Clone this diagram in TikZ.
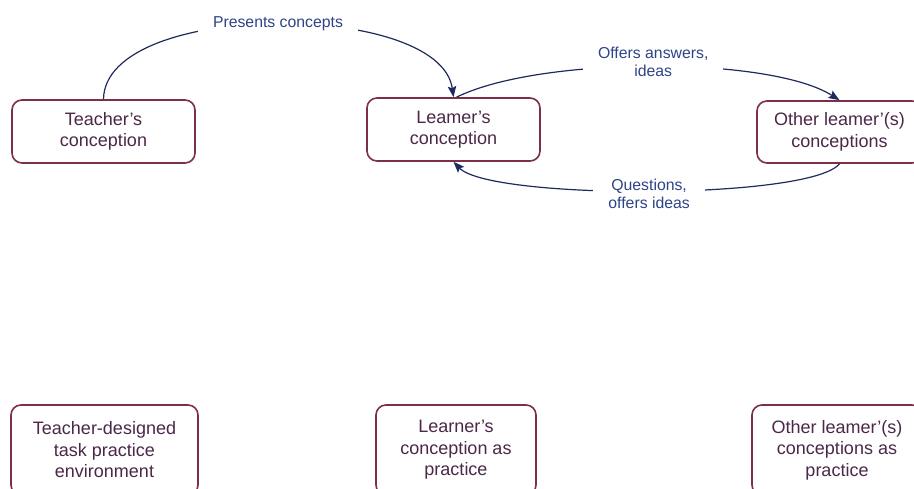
\documentclass[tikz,border=0pt]{standalone}
\usepackage{fontspec}
\setmainfont{Liberation Sans}
\usetikzlibrary{arrows.meta}
\definecolor{boxline}{HTML}{7D2F47}
\definecolor{boxtext}{HTML}{4B2748}
\definecolor{flow}{HTML}{1E2A5E}
\definecolor{flowtext}{HTML}{2D4488}
\begin{document}
\begin{tikzpicture}[x=1pt,y=-1pt,
  concept/.style={draw=boxline, line width=1.6pt, rounded corners=10pt,
    align=center, text=boxtext, font=\fontsize{18}{21.5}\selectfont, inner sep=0pt},
  flowline/.style={draw=flow, line width=1.2pt, -{Stealth[length=11pt,width=8.5pt,inset=2pt]}},
  flowlabel/.style={fill=white, text=flowtext, align=center,
    inner xsep=15pt, inner ysep=3pt, font=\fontsize{15.8}{18}\selectfont}
]
\useasboundingbox (0,0) rectangle (914,489);
\clip (0,0) rectangle (914,489);

% conceptions (upper row)
\node[concept, minimum width=183pt, minimum height=63pt] (tc) at (103.5,131.5) {Teacher’s\\conception};
\node[concept, minimum width=173pt, minimum height=63pt] (lc) at (453.5,129.5) {Leamer’s\\conception};
\node[concept, minimum width=165pt, minimum height=62pt] (oc) at (839.5,132) {Other leamer’(s)\\conceptions};

% practices (lower row)
\node[concept, minimum width=187pt, minimum height=90pt] (tp) at (104.5,450) {Teacher-designed\\task practice\\environment};
\node[concept, minimum width=160pt, minimum height=90pt] (lp) at (456,450) {Learner’s\\conception as\\practice};
\node[concept, minimum width=170pt, minimum height=90pt] (op) at (837,450) {Other leamer’(s)\\conceptions as\\practice};

% exchanges between conceptions
\draw[flowline] (tc.north) .. controls (105,0) and (440,0) ..
  node[flowlabel, pos=0.5, xshift=4pt, yshift=0.5pt] (pcl) {Presents concepts} (lc.north);
\draw[flowline] ([xshift=3pt]lc.north) .. controls (540,56) and (770,56) ..
  node[flowlabel, pos=0.5, yshift=5pt] (oal) {Offers answers,\\ideas} (oc.north);
\draw[flowline] (oc.south) .. controls (810,200) and (490,200) ..
  node[flowlabel, pos=0.5, yshift=-3pt] (qol) {Questions,\\offers ideas} (lc.south);
\end{tikzpicture}
\end{document}
